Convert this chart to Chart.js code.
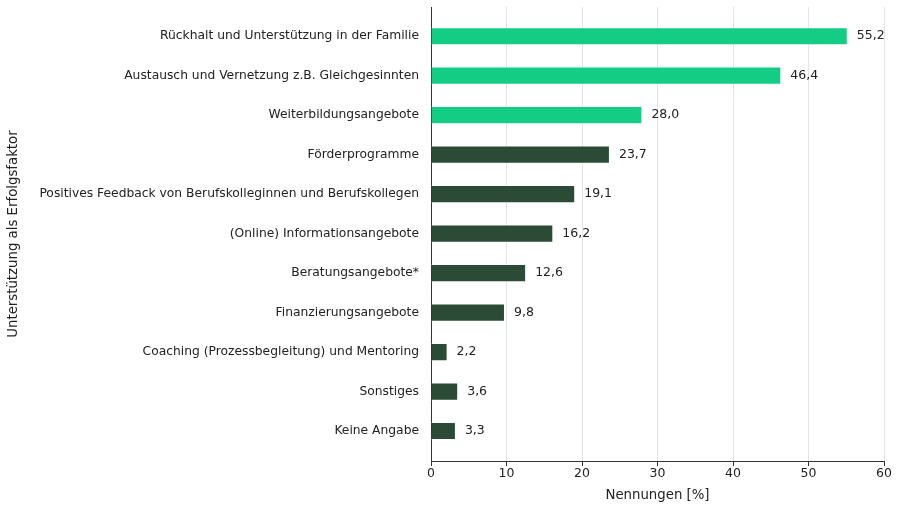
<!DOCTYPE html>
<html>
<head>
<meta charset="utf-8">
<script src="https://cdn.jsdelivr.net/npm/chart.js@4"></script>
<style>
  html, body { margin: 0; padding: 0; background: #fff; }
  #wrap { width: 900px; height: 509px; }
</style>
</head>
<body>
<div id="wrap"><canvas id="erfolgChart" width="900" height="509"></canvas></div>
<script>
// Data
const categories = [
  "Rückhalt und Unterstützung in der Familie",
  "Austausch und Vernetzung z.B. Gleichgesinnten",
  "Weiterbildungsangebote",
  "Förderprogramme",
  "Positives Feedback von Berufskolleginnen und Berufskollegen",
  "(Online) Informationsangebote",
  "Beratungsangebote*",
  "Finanzierungsangebote",
  "Coaching (Prozessbegleitung) und Mentoring",
  "Sonstiges",
  "Keine Angabe"
];
const nennungen = [55.2, 46.4, 28.0, 23.7, 19.1, 16.2, 12.6, 9.8, 2.2, 3.6, 3.3];
const topCount = 3;
const xTicks = [0, 10, 20, 30, 40, 50, 60];

const green = "#14cd85";
const darkGreen = "#2c4b37";
const barColors = nennungen.map((v, i) => (i < topCount ? green : darkGreen));

const fontFamily = "'DejaVu Sans', sans-serif";

// bars placed on a numeric y axis so the plot keeps matplotlib-like margins
const points = nennungen.map((v, i) => ({ x: v, y: i }));

// Value labels next to each bar
const valueLabels = {
  id: "valueLabels",
  afterDatasetsDraw(chart) {
    const ctx = chart.ctx;
    const meta = chart.getDatasetMeta(0);
    ctx.save();
    ctx.font = "12.5px " + fontFamily;
    ctx.fillStyle = "#222";
    ctx.textAlign = "left";
    ctx.textBaseline = "middle";
    meta.data.forEach((bar, i) => {
      const txt = nennungen[i].toFixed(1).replace(".", ",");
      ctx.fillText(txt, bar.x + 9, bar.y);
    });
    ctx.restore();
  }
};

const ctx = document.getElementById("erfolgChart").getContext("2d");
new Chart(ctx, {
  type: "bar",
  data: {
    datasets: [{
      data: points,
      backgroundColor: barColors,
      borderColor: "#ffffff",
      borderWidth: 1,
      barPercentage: 0.46,
      categoryPercentage: 1.0
    }]
  },
  options: {
    indexAxis: "y",
    responsive: false,
    animation: false,
    layout: { padding: { top: 7, right: 16, bottom: 5, left: 4 } },
    plugins: {
      legend: { display: false },
      tooltip: { enabled: false }
    },
    scales: {
      x: {
        type: "linear",
        min: 0,
        max: 60,
        afterBuildTicks(scale) {
          scale.ticks = xTicks.map(v => ({ value: v }));
        },
        grid: {
          color: "#e3e3e3",
          lineWidth: 1,
          drawTicks: true,
          tickLength: 5,
          tickColor: "#333"
        },
        border: { display: true, color: "#333", width: 1 },
        ticks: {
          color: "#222",
          font: { family: fontFamily, size: 12.5 },
          padding: 0
        },
        title: {
          display: true,
          text: "Nennungen [%]",
          color: "#222",
          font: { family: fontFamily, size: 13.3 },
          padding: { top: 7, bottom: 0 }
        }
      },
      y: {
        type: "linear",
        reverse: true,
        offset: false,
        min: -0.74,
        max: 10.76,
        afterBuildTicks(scale) {
          scale.ticks = categories.map((c, i) => ({ value: i }));
        },
        afterFit(scale) {
          scale.width = 427;
          scale.paddingTop = 0;
          scale.paddingBottom = 0;
        },
        grid: { display: false, drawTicks: false },
        border: { display: true, color: "#333", width: 1 },
        ticks: {
          color: "#222",
          font: { family: fontFamily, size: 12.3 },
          padding: 12,
          callback: (v) => categories[v]
        },
        title: {
          display: true,
          text: "Unterstützung als Erfolgsfaktor",
          color: "#222",
          font: { family: fontFamily, size: 13.3 },
          padding: { top: 2, bottom: 0 }
        }
      }
    }
  },
  plugins: [valueLabels]
});
</script>
</body>
</html>
